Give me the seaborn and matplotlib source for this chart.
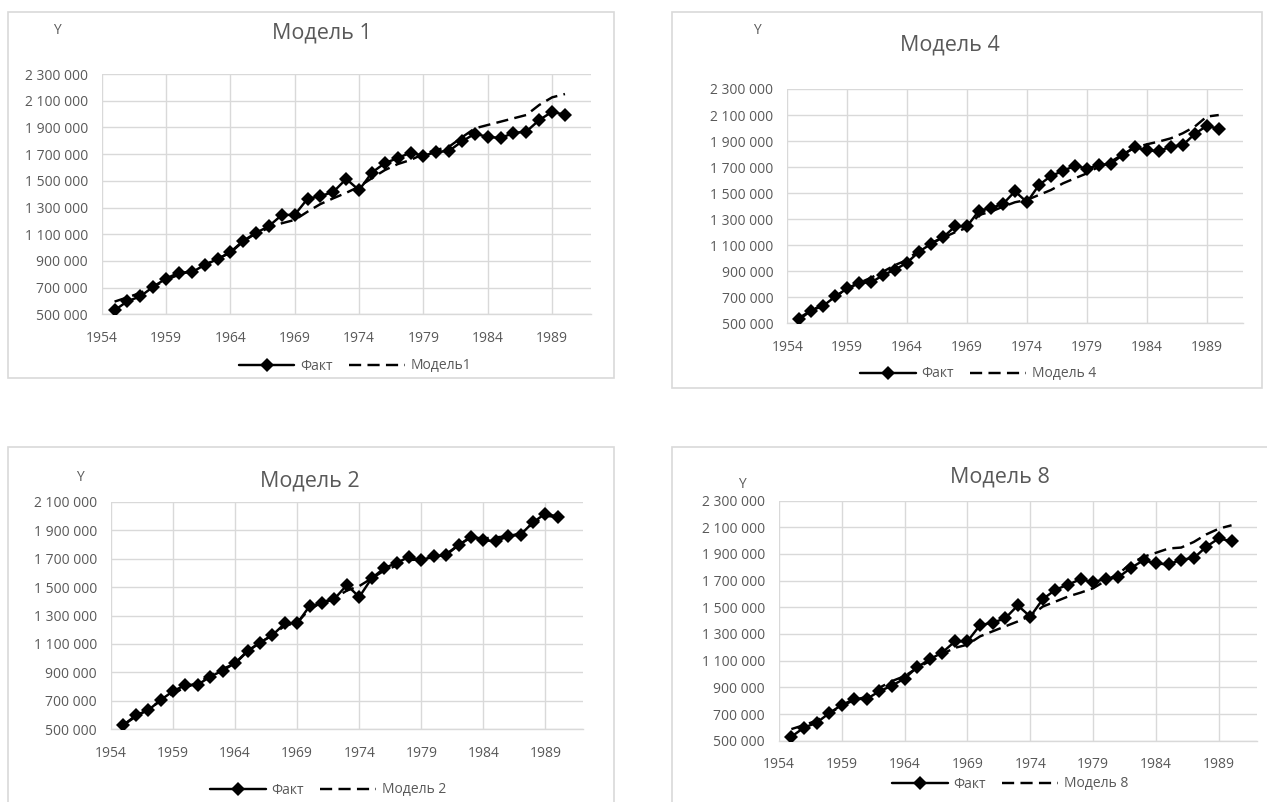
import matplotlib
matplotlib.use("Agg")
import matplotlib.pyplot as plt
from matplotlib.lines import Line2D
from matplotlib.patches import Rectangle
from matplotlib.ticker import FuncFormatter
import pandas as pd
import seaborn as sns

# ---- data -------------------------------------------------------------
years = list(range(1955, 1991))

fact = [530000, 598000, 634000, 706000, 768000, 812000, 814000, 870000, 913000,
        966000, 1051000, 1110000, 1161000, 1244000, 1245000, 1366000, 1385000,
        1417000, 1514000, 1430000, 1562000, 1632000, 1670000, 1711000, 1688000,
        1715000, 1725000, 1795000, 1853000, 1829000, 1821000, 1858000, 1869000,
        1955000, 2017000, 1994000]

model_1 = [595000, 627000, 660000, 707000, 757000, 797000, 830000, 870000, 915000,
           962000, 1045000, 1108000, 1146000, 1182000, 1207000, 1269000, 1326000,
           1369000, 1410000, 1456000, 1520000, 1580000, 1625000, 1656000, 1700000,
           1731000, 1756000, 1826000, 1893000, 1918000, 1943000, 1968000, 1993000,
           2068000, 2125000, 2150000]

model_2 = [530000, 590000, 640000, 700000, 752000, 795000, 825000, 878000, 925000,
           962000, 1048000, 1108000, 1162000, 1228000, 1250000, 1345000, 1392000,
           1422000, 1475000, 1507000, 1561000, 1615000, 1650000, 1690000, 1694000,
           1718000, 1732000, 1795000, 1849000, 1842000, 1849000, 1858000, 1877000,
           1947000, 1999000, 1995000]

model_4 = [543000, 598000, 645000, 705000, 765000, 810000, 851000, 897000, 948000,
           986000, 1065000, 1118000, 1158000, 1199000, 1235000, 1332000, 1358000,
           1396000, 1430000, 1448000, 1486000, 1524000, 1575000, 1614000, 1652000,
           1704000, 1742000, 1798000, 1850000, 1875000, 1896000, 1921000, 1960000,
           2011000, 2088000, 2100000]

model_8 = [587000, 617000, 650000, 705000, 760000, 805000, 830000, 897000, 947000,
           984000, 1046000, 1096000, 1151000, 1196000, 1220000, 1282000, 1320000,
           1357000, 1394000, 1436000, 1506000, 1543000, 1581000, 1610000, 1643000,
           1700000, 1750000, 1829000, 1879000, 1909000, 1941000, 1948000, 1990000,
           2047000, 2090000, 2115000]

x_ticks = [1954, 1959, 1964, 1969, 1974, 1979, 1984, 1989]
y_ticks_tall = [500000, 700000, 900000, 1100000, 1300000, 1500000, 1700000, 1900000, 2100000, 2300000]
y_ticks_short = [500000, 700000, 900000, 1100000, 1300000, 1500000, 1700000, 1900000, 2100000]

titles = ["Модель 1", "Модель 4", "Модель 2", "Модель 8"]
model_names = ["Модель1", "Модель 4", "Модель 2", "Модель 8"]
fact_name = "Факт"
y_name = "Y"

# ---- style ------------------------------------------------------------
sns.set_style("white")
plt.rcParams["font.family"] = ["Open Sans", "DejaVu Sans"]

TEXT = "#595959"
GRID = "#d9d9d9"
FRAME = "#d9d9d9"

W, H = 1267, 802
fig = plt.figure(figsize=(W / 100, H / 100), dpi=100)


def fx(px):
    return px / W


def fy(py):
    return 1 - py / H


def thousands(v, _pos=None):
    return f"{int(round(v)):,}".replace(",", " ")


# pixel layout of each chart block
panels = [
    dict(model=model_1, title=titles[0], name=model_names[0], yticks=y_ticks_tall,
         plot=(101.7, 74, 590.7, 314.3), frame=(8, 12, 614, 378),
         title_xy=(322, 33), ylab_xy=(57, 30), legend_xy=(355, 366)),
    dict(model=model_4, title=titles[1], name=model_names[1], yticks=y_ticks_tall,
         plot=(787.3, 89, 1242.7, 323.3), frame=(672, 12, 1262, 388),
         title_xy=(950, 45), ylab_xy=(757, 30), legend_xy=(978, 374)),
    dict(model=model_2, title=titles[2], name=model_names[2], yticks=y_ticks_short,
         plot=(111, 501.7, 582.7, 729.3), frame=(8, 447, 614, 812),
         title_xy=(310, 481), ylab_xy=(80, 478), legend_xy=(328, 790)),
    dict(model=model_8, title=titles[3], name=model_names[3], yticks=y_ticks_tall,
         plot=(778.8, 500.6, 1256.7, 740.7), frame=(672, 447, 1280, 812),
         title_xy=(1000, 477), ylab_xy=(742, 485), legend_xy=(1010, 784)),
]

LW = 1.75
DASH = (5.0, 2.6)
MS = 7

for p in panels:
    l, t, r, b = p["plot"]
    ax = fig.add_axes([fx(l), fy(b), (r - l) / W, (b - t) / H])

    df = pd.DataFrame({"year": years, "fact": fact, "model": p["model"]})

    sns.lineplot(data=df, x="year", y="model", ax=ax, color="black",
                 linewidth=LW, legend=False, zorder=3)
    ax.lines[-1].set_dashes(DASH)
    sns.lineplot(data=df, x="year", y="fact", ax=ax, color="black",
                 linewidth=LW, marker="D", markersize=MS, markeredgewidth=0,
                 legend=False, zorder=4)

    ax.set_xlim(1954, 1992)
    ax.set_ylim(p["yticks"][0], p["yticks"][-1])
    ax.set_xticks(x_ticks)
    ax.set_yticks(p["yticks"])
    ax.yaxis.set_major_formatter(FuncFormatter(thousands))
    ax.grid(True, color=GRID, linewidth=1.0)
    ax.set_axisbelow(True)
    ax.tick_params(axis="both", length=0, labelsize=10, colors=TEXT)
    ax.tick_params(axis="x", pad=12)
    ax.tick_params(axis="y", pad=10)
    ax.set_xlabel("")
    ax.set_ylabel("")
    for side in ("top", "right", "left"):
        ax.spines[side].set_visible(False)
    ax.spines["bottom"].set_color(GRID)
    ax.spines["bottom"].set_linewidth(1.0)

    fl, ft, fr, fb = p["frame"]
    fig.patches.append(Rectangle((fx(fl), fy(fb)), (fr - fl) / W, (fb - ft) / H,
                                 transform=fig.transFigure, fill=False,
                                 edgecolor=FRAME, linewidth=1.2, zorder=0))

    fig.text(fx(p["title_xy"][0]), fy(p["title_xy"][1]), p["title"],
             ha="center", va="center", fontsize=15.5, color=TEXT)
    fig.text(fx(p["ylab_xy"][0]), fy(p["ylab_xy"][1]), y_name,
             ha="center", va="center", fontsize=10, color=TEXT)

    handles = [
        Line2D([], [], color="black", linewidth=LW, marker="D", markersize=MS,
               markeredgewidth=0),
        Line2D([], [], color="black", linewidth=LW, dashes=DASH),
    ]
    fig.legend(handles, [fact_name, p["name"]], loc="center",
               bbox_to_anchor=(fx(p["legend_xy"][0]), fy(p["legend_xy"][1])),
               ncol=2, frameon=False, fontsize=10, labelcolor=TEXT,
               handlelength=4.0, handletextpad=0.4, columnspacing=1.2,
               numpoints=1, borderpad=0, borderaxespad=0)

fig.savefig("out.png", dpi=100, facecolor="white")
